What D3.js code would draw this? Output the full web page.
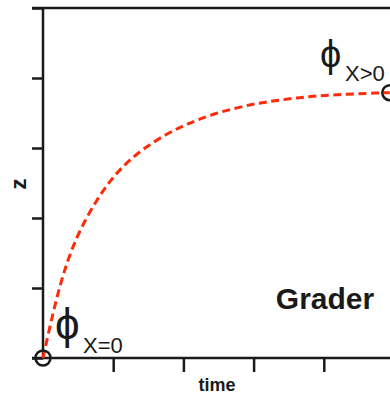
<!DOCTYPE html>
<html><head><meta charset="utf-8">
<script src="https://cdn.jsdelivr.net/npm/d3@7"></script>
<style>body{margin:0;background:#fff}svg{display:block}</style>
</head><body>
<script>
const timeVals = [0, 0.07, 0.14, 0.21, 0.29, 0.39, 0.53, 0.77, 0.95, 1.10, 1.38, 1.77, 2.05, 2.42, 2.91, 3.13, 3.62, 4.09, 4.84, 4.94];
const zVals    = [0, 0.32, 0.63, 0.91, 1.20, 1.50, 1.84, 2.27, 2.52, 2.70, 2.96, 3.21, 3.34, 3.49, 3.61, 3.65, 3.72, 3.76, 3.79, 3.79];
const xTicks = [0, 1, 2, 3, 4, 5];
const yTicks = [0, 1, 2, 3, 4, 5];
const endpoints = [[0, 0], [4.94, 3.79]];

const W = 390, H = 394;
const svg = d3.select("body").append("svg").attr("width", W).attr("height", H);
const x = d3.scaleLinear().domain([0, 5]).range([43, 394]);
const y = d3.scaleLinear().domain([0, 5]).range([358, 8]);
const ink = "#1a1a1a";

// top frame
svg.append("line").attr("x1", 32).attr("x2", W).attr("y1", y(5)).attr("y2", y(5))
  .attr("stroke", ink).attr("stroke-width", 2.5);

const xAxis = svg.append("g").attr("transform", `translate(0,${y(0)})`)
  .call(d3.axisBottom(x).tickValues(xTicks.slice(1)).tickSize(14).tickFormat(""));
xAxis.select(".domain").remove();
xAxis.append("line").attr("x1", 32).attr("x2", W).attr("stroke", ink).attr("stroke-width", 2.5);
xAxis.selectAll(".tick line").attr("stroke", ink).attr("stroke-width", 2.5);

const yAxis = svg.append("g").attr("transform", `translate(${x(0)},0)`)
  .call(d3.axisLeft(y).tickValues(yTicks).tickSize(11).tickFormat(""));
yAxis.select(".domain").remove();
yAxis.append("line").attr("y1", y(5)).attr("y2", y(0)).attr("stroke", ink).attr("stroke-width", 2.5);
yAxis.selectAll(".tick line").attr("stroke", ink).attr("stroke-width", 2.5);

const data = timeVals.map((t, i) => [t, zVals[i]]);
svg.append("path").datum(data)
  .attr("d", d3.line().x(d => x(d[0])).y(d => y(d[1])).curve(d3.curveBasis))
  .attr("fill", "none").attr("stroke", "#ff2a0a").attr("stroke-width", 3)
  .attr("stroke-dasharray", "8,4.5");

svg.selectAll("circle.ep").data(endpoints).enter().append("circle")
  .attr("cx", d => x(d[0])).attr("cy", d => y(d[1])).attr("r", 7.5)
  .attr("fill", "none").attr("stroke", ink).attr("stroke-width", 2.5);

const txt = (s, X, Y, size, weight, anchor) => svg.append("text").attr("x", X).attr("y", Y)
  .attr("font-family", "Liberation Sans, Arial, sans-serif").attr("font-size", size)
  .attr("font-weight", weight || "normal").attr("text-anchor", anchor || "start")
  .attr("fill", ink).text(s);

txt("ϕ", 55, 339, 44, "normal");
txt("X=0", 83, 353, 22);
txt("ϕ", 320, 67, 38, "normal");
txt("X>0", 345, 81, 22);
txt("time", 217, 391, 18, "bold", "middle");
txt("Grader", 325, 309, 30, "bold", "middle");
svg.append("text").attr("transform", "translate(26,184) rotate(-90)")
  .attr("font-family", "Liberation Sans, Arial, sans-serif").attr("font-size", 22)
  .attr("font-weight", "bold").attr("text-anchor", "middle").attr("fill", ink).text("z");
</script>
</body></html>
